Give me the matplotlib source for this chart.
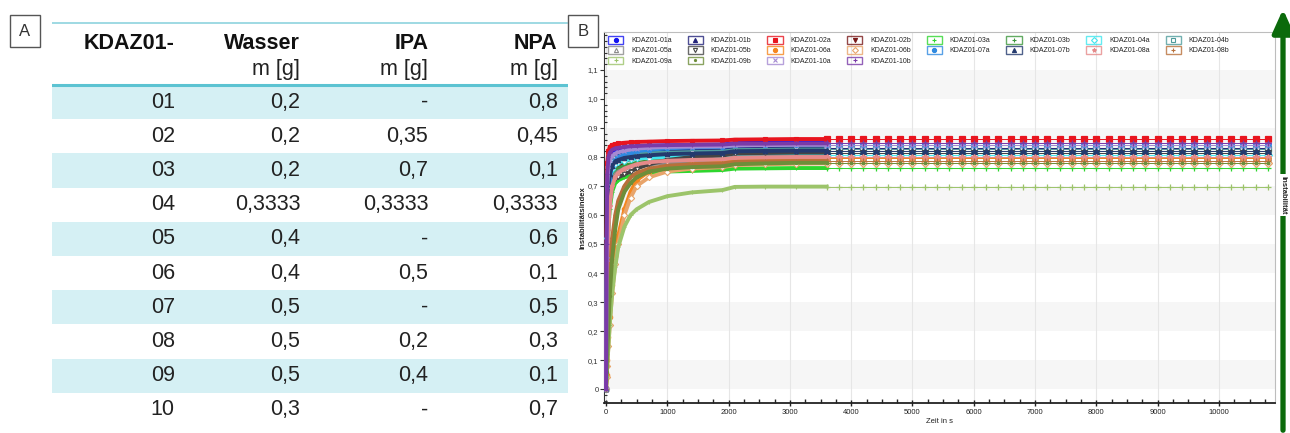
import matplotlib
matplotlib.use("Agg")
import matplotlib.pyplot as plt
from matplotlib.legend_handler import HandlerBase
from matplotlib.lines import Line2D
from matplotlib.patches import Rectangle, FancyArrowPatch
from matplotlib.ticker import MultipleLocator, FuncFormatter

plt.rcParams['font.family'] = ['Liberation Sans', 'DejaVu Sans']

# table A
ids = ['01', '02', '03', '04', '05', '06', '07', '08', '09', '10']
wasser = ['0,2', '0,2', '0,2', '0,3333', '0,4', '0,4', '0,5', '0,5', '0,5', '0,3']
ipa = ['-', '0,35', '0,7', '0,3333', '-', '0,5', '-', '0,2', '0,4', '-']
npa = ['0,8', '0,45', '0,1', '0,3333', '0,6', '0,1', '0,5', '0,3', '0,1', '0,7']
headers = ['KDAZ01-', 'Wasser', 'IPA', 'NPA']
units = ['', 'm [g]', 'm [g]', 'm [g]']

# chart B: time in s, dense part then sparse part
t_early = [0, 10, 20, 40, 60, 100, 150, 200, 300, 400, 500, 700, 1000, 1400,
           1900, 2100, 2600, 3100, 3600]
t_late = [3800, 4000, 4200, 4400, 4600, 4800, 5000, 5200, 5400, 5600, 5800,
          6000, 6200, 6400, 6600, 6800, 7000, 7200, 7400, 7600, 7800, 8000,
          8200, 8400, 8600, 8800, 9000, 9200, 9400, 9600, 9800, 10000, 10200,
          10400, 10600, 10800]

names = ['KDAZ01-01a', 'KDAZ01-01b', 'KDAZ01-02a', 'KDAZ01-02b', 'KDAZ01-03a',
         'KDAZ01-03b', 'KDAZ01-04a', 'KDAZ01-04b', 'KDAZ01-05a', 'KDAZ01-05b',
         'KDAZ01-06a', 'KDAZ01-06b', 'KDAZ01-07a', 'KDAZ01-07b', 'KDAZ01-08a',
         'KDAZ01-08b', 'KDAZ01-09a', 'KDAZ01-09b', 'KDAZ01-10a', 'KDAZ01-10b']

early = {
    'KDAZ01-01a': [0.0, 0.45, 0.70, 0.78, 0.80, 0.815, 0.822, 0.826, 0.83, 0.833, 0.835, 0.838, 0.84, 0.842, 0.843, 0.848, 0.849, 0.85, 0.85],
    'KDAZ01-01b': [0.0, 0.40, 0.65, 0.74, 0.77, 0.79, 0.80, 0.805, 0.81, 0.813, 0.815, 0.818, 0.82, 0.822, 0.824, 0.83, 0.831, 0.832, 0.832],
    'KDAZ01-02a': [0.0, 0.55, 0.78, 0.82, 0.835, 0.842, 0.845, 0.847, 0.849, 0.851, 0.852, 0.853, 0.855, 0.856, 0.857, 0.86, 0.861, 0.862, 0.862],
    'KDAZ01-02b': [0.0, 0.30, 0.50, 0.62, 0.68, 0.73, 0.755, 0.77, 0.785, 0.792, 0.797, 0.80, 0.803, 0.806, 0.808, 0.812, 0.813, 0.814, 0.814],
    'KDAZ01-03a': [0.0, 0.20, 0.40, 0.55, 0.62, 0.68, 0.71, 0.72, 0.73, 0.735, 0.74, 0.745, 0.75, 0.752, 0.755, 0.76, 0.761, 0.762, 0.762],
    'KDAZ01-03b': [0.0, 0.25, 0.45, 0.60, 0.68, 0.73, 0.75, 0.76, 0.77, 0.775, 0.78, 0.785, 0.788, 0.79, 0.792, 0.795, 0.796, 0.797, 0.797],
    'KDAZ01-04a': [0.0, 0.30, 0.52, 0.66, 0.72, 0.76, 0.775, 0.782, 0.788, 0.792, 0.795, 0.798, 0.80, 0.801, 0.802, 0.805, 0.806, 0.806, 0.806],
    'KDAZ01-04b': [0.0, 0.35, 0.60, 0.72, 0.76, 0.785, 0.795, 0.80, 0.805, 0.808, 0.81, 0.813, 0.815, 0.817, 0.819, 0.824, 0.825, 0.826, 0.826],
    'KDAZ01-05a': [0.0, 0.25, 0.45, 0.60, 0.67, 0.72, 0.74, 0.75, 0.76, 0.765, 0.77, 0.775, 0.78, 0.785, 0.79, 0.798, 0.80, 0.80, 0.80],
    'KDAZ01-05b': [0.0, 0.40, 0.62, 0.70, 0.715, 0.72, 0.725, 0.73, 0.74, 0.75, 0.76, 0.775, 0.79, 0.80, 0.805, 0.812, 0.814, 0.815, 0.815],
    'KDAZ01-06a': [0.0, 0.05, 0.10, 0.18, 0.25, 0.36, 0.46, 0.53, 0.62, 0.68, 0.72, 0.75, 0.765, 0.775, 0.78, 0.79, 0.793, 0.795, 0.797],
    'KDAZ01-06b': [0.0, 0.04, 0.08, 0.15, 0.22, 0.33, 0.43, 0.50, 0.60, 0.66, 0.70, 0.73, 0.75, 0.76, 0.765, 0.772, 0.775, 0.777, 0.778],
    'KDAZ01-07a': [0.0, 0.30, 0.50, 0.65, 0.72, 0.77, 0.79, 0.80, 0.81, 0.815, 0.82, 0.825, 0.83, 0.833, 0.835, 0.84, 0.842, 0.843, 0.843],
    'KDAZ01-07b': [0.0, 0.35, 0.58, 0.70, 0.74, 0.77, 0.785, 0.79, 0.797, 0.80, 0.803, 0.806, 0.81, 0.812, 0.814, 0.82, 0.821, 0.822, 0.822],
    'KDAZ01-08a': [0.0, 0.20, 0.40, 0.55, 0.63, 0.70, 0.73, 0.745, 0.76, 0.768, 0.775, 0.782, 0.787, 0.79, 0.792, 0.797, 0.798, 0.80, 0.80],
    'KDAZ01-08b': [0.0, 0.08, 0.15, 0.28, 0.38, 0.52, 0.60, 0.65, 0.70, 0.73, 0.745, 0.76, 0.77, 0.775, 0.778, 0.783, 0.785, 0.786, 0.786],
    'KDAZ01-09a': [0.0, 0.04, 0.08, 0.15, 0.22, 0.33, 0.42, 0.49, 0.56, 0.60, 0.62, 0.645, 0.665, 0.678, 0.686, 0.697, 0.698, 0.698, 0.698],
    'KDAZ01-09b': [0.0, 0.06, 0.12, 0.22, 0.32, 0.45, 0.55, 0.62, 0.68, 0.71, 0.73, 0.75, 0.76, 0.765, 0.768, 0.775, 0.778, 0.78, 0.78],
    'KDAZ01-10a': [0.0, 0.45, 0.70, 0.77, 0.79, 0.805, 0.812, 0.817, 0.822, 0.826, 0.829, 0.832, 0.835, 0.836, 0.837, 0.84, 0.841, 0.842, 0.842],
    'KDAZ01-10b': [0.0, 0.50, 0.74, 0.80, 0.815, 0.825, 0.83, 0.832, 0.835, 0.837, 0.838, 0.84, 0.841, 0.842, 0.843, 0.846, 0.846, 0.847, 0.847],
}
# value held after 3600 s
plateau = {
    'KDAZ01-01a': 0.850, 'KDAZ01-01b': 0.832, 'KDAZ01-02a': 0.862, 'KDAZ01-02b': 0.814,
    'KDAZ01-03a': 0.762, 'KDAZ01-03b': 0.797, 'KDAZ01-04a': 0.806, 'KDAZ01-04b': 0.826,
    'KDAZ01-05a': 0.800, 'KDAZ01-05b': 0.815, 'KDAZ01-06a': 0.797, 'KDAZ01-06b': 0.778,
    'KDAZ01-07a': 0.843, 'KDAZ01-07b': 0.822, 'KDAZ01-08a': 0.800, 'KDAZ01-08b': 0.786,
    'KDAZ01-09a': 0.698, 'KDAZ01-09b': 0.780, 'KDAZ01-10a': 0.842, 'KDAZ01-10b': 0.847,
}

styles = {
    'KDAZ01-01a': ('#1414f0', 'o', True), 'KDAZ01-01b': ('#23237a', '^', True),
    'KDAZ01-02a': ('#e8141e', 's', True), 'KDAZ01-02b': ('#7a1a1a', 'v', True),
    'KDAZ01-03a': ('#2ed62e', '+', True), 'KDAZ01-03b': ('#3c963c', '+', True),
    'KDAZ01-04a': ('#3ee6ee', 'D', False), 'KDAZ01-04b': ('#4f9c9c', 's', False),
    'KDAZ01-05a': ('#8a8a8a', '^', False), 'KDAZ01-05b': ('#454545', 'v', False),
    'KDAZ01-06a': ('#f5861f', 'o', True), 'KDAZ01-06b': ('#e8a46a', 'D', False),
    'KDAZ01-07a': ('#2f8ae0', 'o', True), 'KDAZ01-07b': ('#243a6e', '^', True),
    'KDAZ01-08a': ('#e58a8a', '*', True), 'KDAZ01-08b': ('#b8703a', '+', True),
    'KDAZ01-09a': ('#9cc46a', '+', True), 'KDAZ01-09b': ('#6e8e3a', '.', True),
    'KDAZ01-10a': ('#a58ad2', 'x', True), 'KDAZ01-10b': ('#7a3aa8', '+', True),
}


class BoxHandler(HandlerBase):
    def create_artists(self, legend, orig_handle, xdescent, ydescent,
                       width, height, fontsize, trans):
        col = orig_handle.get_color()
        box = Rectangle((-xdescent, -ydescent), width, height, fill=False,
                        edgecolor=col, lw=1.0, alpha=0.8, transform=trans)
        mk = Line2D([width / 2 - xdescent], [height / 2 - ydescent],
                    marker=orig_handle.get_marker(), markersize=3,
                    color=col, markerfacecolor=orig_handle.get_markerfacecolor(),
                    markeredgewidth=0.8, linestyle='none', transform=trans)
        return [box, mk]


fig = plt.figure(figsize=(12.9, 4.33), dpi=100)

# ---------- table A ----------
ax_t = fig.add_axes([52 / 1290, 6 / 433, 516 / 1290, 410.4 / 433])
ax_t.set_xlim(0, 1)
ax_t.set_ylim(9.5, -2.5)
ax_t.axis('off')
col_x = [0.238, 0.481, 0.729, 0.98]
band = '#d5f0f4'
for i in range(len(ids)):
    if i % 2 == 0:
        ax_t.axhspan(i - 0.5, i + 0.5, color=band, lw=0, zorder=0)
ax_t.axhline(-2.31, xmin=0, xmax=0.998, color='#8dd3de', lw=1.2)
ax_t.axhline(-0.5, color='#5cc3d2', lw=2.2)
for j, h in enumerate(headers):
    ax_t.text(col_x[j], -1.7, h, ha='right', va='center', fontsize=15.5,
              fontweight='bold', color='#111111')
    if units[j]:
        ax_t.text(col_x[j], -0.96, units[j], ha='right', va='center',
                  fontsize=15.5, color='#222222')
for i in range(len(ids)):
    for j, col in enumerate([ids, wasser, ipa, npa]):
        ax_t.text(col_x[j], i, col[i], ha='right', va='center', fontsize=15.5,
                  color='#222222')

# panel letters
for letter, xl in [('A', 10), ('B', 568)]:
    fig.patches.append(Rectangle((xl / 1290, 1 - 47 / 433), 30 / 1290, 32 / 433,
                                 transform=fig.transFigure, facecolor='white',
                                 edgecolor='#555555', lw=1.0, zorder=5))
    fig.text((xl + 15) / 1290, 1 - 31 / 433, letter, ha='center', va='center',
             fontsize=12, color='#333333', zorder=6)

# ---------- chart B ----------
ax = fig.add_axes([604 / 1290, 30 / 433, 671 / 1290, 371 / 433])
for lo in [0.0, 0.2, 0.4, 0.6, 0.8, 1.0]:
    ax.axhspan(lo, lo + 0.1, color='#f6f6f6', lw=0, zorder=0)
ax.grid(axis='x', which='major', color='#e6e6e6', lw=0.8, zorder=0)

handles = {}
for n in names:
    c, m, filled = styles[n]
    mfc = c if filled else 'white'
    ax.plot(t_early, early[n], color=c, lw=2.8, marker=m, markersize=3.2,
            markerfacecolor=mfc, markeredgewidth=0.8, zorder=3)
    ax.plot([t_early[-1]] + t_late, [plateau[n]] * (len(t_late) + 1), color=c,
            lw=0.7, marker=m, markersize=3.8, markerfacecolor=mfc,
            markeredgewidth=0.9, zorder=3)
    handles[n] = Line2D([], [], color=c, marker=m, markerfacecolor=mfc)

ax.set_xlim(-33, 10914)
ax.set_ylim(-0.048, 1.231)
ax.xaxis.set_major_locator(MultipleLocator(1000))
ax.xaxis.set_minor_locator(MultipleLocator(250))
ax.yaxis.set_minor_locator(MultipleLocator(0.02))
ax.set_yticks([v / 10 for v in range(12)])
ax.yaxis.set_major_formatter(FuncFormatter(
    lambda v, p: '0' if abs(v) < 1e-9 else f'{v:.1f}'.replace('.', ',')))
ax.tick_params(axis='x', which='major', direction='inout', length=5, width=1,
               labelsize=5.5, pad=2, colors='#222222')
ax.tick_params(axis='x', which='minor', direction='in', length=3, width=1,
               color='#222222')
ax.tick_params(axis='y', which='major', direction='out', length=3, width=0.8,
               labelsize=5.5, pad=1, colors='#333333')
ax.tick_params(axis='y', which='minor', direction='in', length=2, width=0.8,
               color='#333333')
for s in ['top', 'right']:
    ax.spines[s].set_color('#bdbdbd')
ax.spines['left'].set_color('#333333')
ax.spines['bottom'].set_color('#222222')
ax.spines['bottom'].set_linewidth(1.3)
ax.set_xlabel('Zeit in s', fontsize=5.5, labelpad=1, color='#222222')
ax.set_ylabel('Instabilitätsindex', fontsize=5.5, labelpad=1, fontweight='bold',
              color='#222222')

# legend ordered by rows: matplotlib fills columns first
order = []
for c in range(8):
    for r in range(3):
        k = r * 8 + c
        if k < len(names):
            order.append(names[k])
leg = ax.legend([handles[n] for n in order], order, loc='upper left',
                bbox_to_anchor=(0.0, 1.0), ncol=8, fontsize=5, frameon=False,
                handler_map={Line2D: BoxHandler()}, handlelength=2.2,
                handleheight=1.3, handletextpad=1.1, columnspacing=2.3,
                labelspacing=0.3, borderpad=0.3, borderaxespad=0.3)
for txt in leg.get_texts():
    txt.set_color('#222222')

# green arrow on the right
fig.patches.append(FancyArrowPatch((1283 / 1290, 0.0), (1283 / 1290, 0.985),
                                   transform=fig.transFigure,
                                   arrowstyle='-|>,head_length=1.0,head_width=0.45',
                                   mutation_scale=14, lw=3.8, color='#0b6a0b'))
fig.text(1283 / 1290, 1 - 195 / 433, 'Instabilität', rotation=270, ha='center',
         va='center', fontsize=5.5, fontweight='bold', color='#222222',
         bbox=dict(facecolor='white', edgecolor='none', pad=1.5))

fig.savefig('out.png', dpi=100)
